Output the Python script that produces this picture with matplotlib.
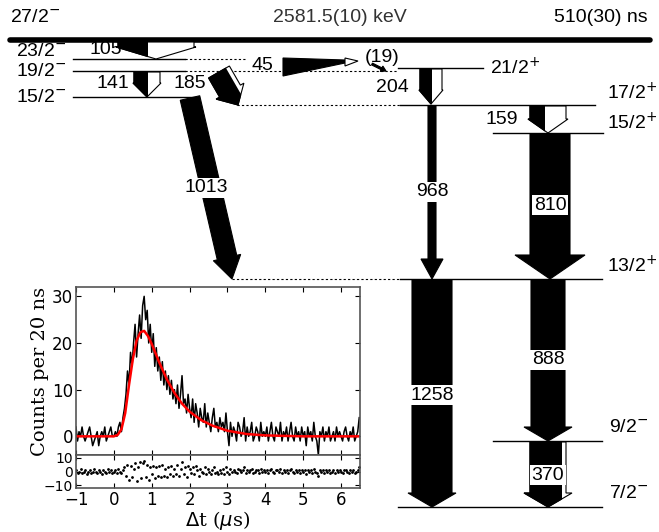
import numpy as np
import matplotlib.pyplot as plt
from matplotlib.patches import Polygon

# level scheme data
level_labels = ['27/2$^{-}$', '23/2$^{-}$', '19/2$^{-}$', '15/2$^{-}$', '21/2$^{+}$',
                '17/2$^{+}$', '15/2$^{+}$', '13/2$^{+}$', '9/2$^{-}$', '7/2$^{-}$']
gamma_labels = ['105', '141', '185', '1013', '204', '968', '159', '810', '1258', '888', '370']
isomer_energy = '2581.5(10) keV'
isomer_halflife = '510(30) ns'

# decay curve data (40 ns steps from -1 us)
t0, dt = -1.0, 0.04
counts = [2, -1, 1, 0, 2, 0, -1, 0, 1, 2, 0, -2, -1, 0, 1, -2, 0, 1, 0, 2, -1, 0, 1, 2, 0,
          0, 1, 0, 2, 3, 1, 4, 6,
          9, 14, 11, 18, 15, 20, 24, 17, 22, 26, 21, 28,
          30, 25, 27, 20, 24,
          18, 22, 15, 19, 14, 17, 12, 16, 11, 14, 10, 13, 9,
          12, 8, 10, 7, 11, 6, 9, 13, 7, 8, 5, 9,
          6, 4, 8, 3, 7, 5, 2, 6, 4, 3, 7, 2, 5, 3, 1, 4, 6, 2, 3, 1, 4, 2, 3, 1, 5,
          1, -2, 3, 0, 2, 1, -1, 3, 2, 0, 1, 4, -1, 2, 0, 1, 3, -1, 0, 2, 1, -1, 3, 0, 1,
          0, 2, -1, 1, 3, 0, -1, 2, 1, 0, 3, -1, 1, 0, 2, -1, 1, 3, 0, -1, 2, 0, 1, -1, 2,
          0, 1, -2, 2, 0, 1, -1, 3, 0, -1, -4, 1, 0, 2, -1, 1, 0, 2, -1, 0, 1, -1, 2, 0, 1,
          0, -1, 1, 2, 0, -1, 1, 0, 2, -1, 0, 1, 4]
fit_t = [-1, 0, 0.1, 0.2, 0.3, 0.4, 0.5, 0.6, 0.7, 0.8, 0.9, 1.0, 1.1, 1.2, 1.3, 1.4, 1.6,
         1.8, 2.0, 2.3, 2.6, 3.0, 3.5, 4.0, 5.0, 6.5]
fit_y = [0, 0, 0.3, 1.5, 5, 11, 16.5, 20.5, 22.3, 22.6, 21.5, 19.8, 17.8, 15.8, 14.0, 12.2,
         9.3, 7.0, 5.3, 3.5, 2.3, 1.2, 0.5, 0.2, 0, 0]
resid = [1, -1, 0, 2, -1, 0, 1, -2, 0, 1, -1, 0, 2, 0, -1, 1, 0, -2, 1, 0, -1, 2, 0, 1, -1,
         0, 1, -1, 2, 0, -1, 1, 3,
         -3, 5, -6, 4, -4, 2, 6, -7, 3, 7, -5, 6,
         8, -4, 5, -6, 3,
         -2, 4, -5, 3, -3, 4, -4, 5, -3, 2, -4, 3, -2,
         4, -3, 2, -2, 5, -3, 2, 7, -2, 3, -4, 4,
         2, -1, 3, -2, 4, 1, -3, 2, 0, -1, 3, -2, 2, 0, -2, 1, 3, -1, 0, -2, 1, -1, 2, -2, 3,
         0, -2, 2, 0, 1, 0, -1, 2, 1, 0, 1, 3, -1, 1, 0, 1, 2, -1, 0, 1, 1, -1, 2, 0, 1,
         0, 1, -1, 1, 2, 0, -1, 1, 1, 0, 2, -1, 1, 0, 1, -1, 1, 2, 0, -1, 1, 0, 1, -1, 1,
         0, 1, -2, 1, 0, 1, -1, 2, 0, -1, -3, 1, 0, 1, -1, 1, 0, 1, -1, 0, 1, -1, 1, 0, 1,
         0, -1, 1, 1, 0, -1, 1, 0, 1, -1, 0, 1, 3]

plt.rcParams['font.family'] = ['Liberation Sans', 'DejaVu Sans']
fig = plt.figure(figsize=(6.59, 5.32), dpi=100)
ax = fig.add_axes([0, 0, 1, 1])
ax.set_xlim(0, 659)
ax.set_ylim(532, 0)
ax.axis('off')
FS = 14


def arrow(x0, y0, x1, y1, sw, hw, hl, split=None):
    p0 = np.array([x0, y0], float)
    d = np.array([x1 - x0, y1 - y0], float)
    L = np.hypot(*d)
    d /= L
    n = np.array([d[1], -d[0]])
    if d[1] > 0:
        n = -n if n[0] < 0 else n
    loc = [(0, -sw), (L - hl, -sw), (L - hl, -hw), (L, 0), (L - hl, hw), (L - hl, sw), (0, sw)]
    pts = [p0 + u * d + v * n for u, v in loc]
    if split is None:
        ax.add_patch(Polygon(pts, closed=True, fc='black', ec='black', lw=0.8, zorder=3))
        return
    ax.add_patch(Polygon(pts, closed=True, fc='white', ec='black', lw=0.8, zorder=3))
    blk = Polygon(pts, closed=True, fc='black', ec='black', lw=0.8, zorder=4)
    ax.add_patch(blk)
    clip = [p0 + u * d + v * n for u, v in [(-5, -100), (L + 5, -100), (L + 5, split), (-5, split)]]
    cp = Polygon(clip, closed=True, transform=ax.transData)
    blk.set_clip_path(cp)


def level(y, xs, xe, xd0=None, xd1=None, lw=1.0):
    ax.plot([xs, xe], [y, y], color='black', lw=lw, zorder=2)
    if xd0 is not None:
        ax.plot([xd0, xd1], [y, y], color='black', lw=0.8, ls=(0, (2, 2)), zorder=2)


# levels
ax.plot([10, 650], [40, 40], color='black', lw=4, solid_capstyle='round')
level(59, 73, 185, 185, 245)
level(71, 73, 185, 185, 398)
level(97, 73, 195)
level(68, 398, 483)
level(105, 400, 595, 237, 400)
level(133, 493, 603)
level(279, 400, 602, 232, 400)
level(441, 493, 602)
level(507, 398, 602)

lab_pos = [(10, 18, 'left'), (16, 52, 'left'), (16, 72, 'left'), (16, 97, 'left'),
           (490, 68, 'left'), (607, 93, 'left'), (607, 123, 'left'), (607, 266, 'left'),
           (609, 427, 'left'), (609, 494, 'left')]
for (x, y, ha), s in zip(lab_pos, level_labels):
    ax.text(x, y, s, fontsize=FS, ha=ha, va='center', zorder=6)
ax.text(340, 18, isomer_energy, fontsize=FS, ha='center', va='center', color='#333333')
ax.text(648, 18, isomer_halflife, fontsize=FS, ha='right', va='center')

# transitions
arrow(156, 42, 156, 59, 38, 40, 12, split=-8)
arrow(147, 72, 147, 97, 13, 14, 14, split=1)
arrow(219, 72, 238, 105, 12, 16, 16, split=8)
arrow(190, 98, 232, 279, 10, 14, 22)
arrow(431, 69, 431, 104, 11, 12, 14, split=1)
arrow(432, 106, 432, 279, 4, 11, 20)
arrow(548, 106, 548, 133, 18, 20, 14, split=-3)
arrow(550, 134, 550, 279, 20, 35, 24)
arrow(432, 280, 432, 507, 20, 24, 14)
arrow(548, 280, 548, 441, 17, 24, 14)
arrow(548, 442, 548, 507, 18, 24, 14, split=14)
arrow(372, 64, 386, 71, 1, 3, 5)
# 45 keV wedge
ax.add_patch(Polygon([(283, 58), (283, 76), (345, 63), (345, 60)], closed=True,
                     fc='black', ec='black', lw=0.8, zorder=3))
ax.add_patch(Polygon([(345, 58), (345, 66), (358, 61)], closed=True,
                     fc='white', ec='black', lw=0.8, zorder=3))

glab = {'105': (106, 50), '141': (113, 84), '185': (190, 84), '1013': (206, 188),
        '204': (392, 87), '968': (432, 192), '159': (502, 120), '810': (550, 205),
        '1258': (432, 395), '888': (548, 360), '370': (548, 475)}
boxed = {'1013', '968', '810', '1258', '888', '370'}
for s in gamma_labels:
    x, y = glab[s]
    kw = dict(bbox=dict(fc='white', ec='none', pad=1.0)) if s in boxed else {}
    ax.text(x, y, s, fontsize=FS, ha='center', va='center', zorder=6, **kw)
ax.text(262, 66, '45', fontsize=FS, ha='center', va='center', zorder=6)
ax.text(382, 57, '(19)', fontsize=FS, ha='center', va='center', zorder=6)

# inset: decay curve
W, H = 659, 532
ax1 = fig.add_axes([76 / W, 1 - 455 / H, 284 / W, 168 / H])
ax2 = fig.add_axes([76 / W, 1 - 488 / H, 284 / W, 33 / H], sharex=ax1)
t = t0 + dt * np.arange(len(counts))
ax1.plot(t, counts, color='black', lw=1.1)
ax1.plot(fit_t, fit_y, color='red', lw=1.8)
ax1.set_xlim(-1, 6.5)
ax1.set_ylim(-4, 32)
ax1.set_yticks([0, 10, 20, 30])
ax1.set_ylabel('Counts per 20 ns', family='DejaVu Serif', fontsize=14, labelpad=2)
ax2.plot(t, resid, 'k.', ms=2)
ax2.set_ylim(-12, 12)
ax2.set_yticks([-10, 0, 10])
ax2.set_xticks(range(-1, 7))
ax2.set_xlabel(r'$\Delta$t ($\mu$s)', family='DejaVu Serif', fontsize=14, labelpad=0)
plt.setp(ax1.get_xticklabels(), visible=False)
for a in (ax1, ax2):
    a.tick_params(direction='in', top=True, right=True, labelsize=12, pad=2)
    for lbl in a.get_xticklabels() + a.get_yticklabels():
        lbl.set_family('DejaVu Sans')
    for sp in a.spines.values():
        sp.set_color('#555555')
        sp.set_linewidth(1.2)
ax2.tick_params(axis='y', labelsize=10)

fig.savefig('out.png', dpi=100)
